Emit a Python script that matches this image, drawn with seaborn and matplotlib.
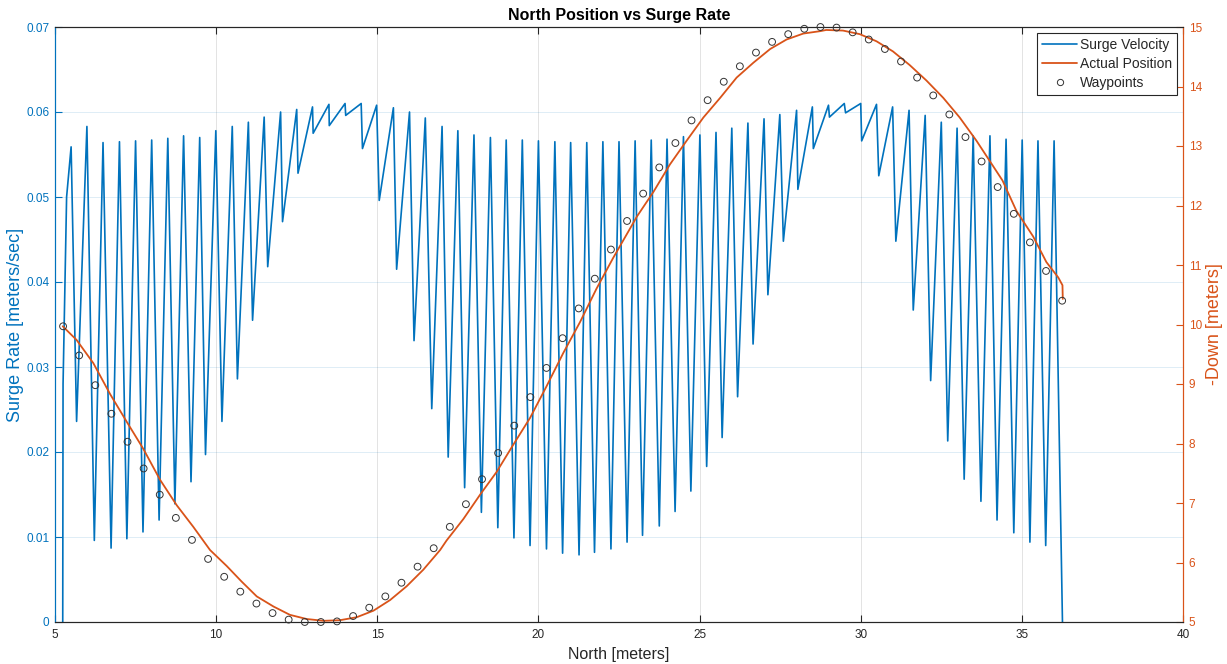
import numpy as np
import pandas as pd
import seaborn as sns
import matplotlib.pyplot as plt
from matplotlib.lines import Line2D

# surge velocity: start ramp, then peak / trough pairs
start_x = [5.24, 5.25, 5.36]
start_v = [0.0, 0.028, 0.050]

peak_x = [5.50, 5.99, 6.49, 7.00, 7.50, 8.00, 8.50, 8.99, 9.49, 9.99,
          10.50, 11.00, 11.49, 12.00, 12.50, 12.99, 13.50, 14.00, 14.50, 14.98,
          15.50, 16.00, 16.49, 17.01, 17.50, 18.00, 18.51, 19.00, 19.50, 20.00,
          20.51, 21.00, 21.50, 22.00, 22.50, 23.00, 23.50, 23.99, 24.50, 25.01,
          25.51, 26.00, 26.50, 27.00, 27.49, 28.01, 28.50, 29.00, 29.49, 30.00,
          30.49, 30.99, 31.50, 32.00, 32.50, 32.99, 33.49, 34.01, 34.51, 35.01,
          35.50, 36.00]
peak_v = [0.0559, 0.0583, 0.0564, 0.0565, 0.0566, 0.0567, 0.0569, 0.0572, 0.0570, 0.0578,
          0.0583, 0.0588, 0.0594, 0.0600, 0.0603, 0.0606, 0.0609, 0.0610, 0.0610, 0.0608,
          0.0605, 0.0600, 0.0593, 0.0583, 0.0578, 0.0573, 0.0570, 0.0567, 0.0567, 0.0566,
          0.0565, 0.0564, 0.0564, 0.0565, 0.0565, 0.0566, 0.0567, 0.0568, 0.0571, 0.0573,
          0.0576, 0.0581, 0.0587, 0.0592, 0.0597, 0.0602, 0.0606, 0.0608, 0.0610, 0.0610,
          0.0609, 0.0606, 0.0602, 0.0596, 0.0588, 0.0581, 0.0572, 0.0572, 0.0568, 0.0567,
          0.0566, 0.0566]

trough_x = [5.67, 6.22, 6.74, 7.23, 7.73, 8.23, 8.72, 9.22, 9.67, 10.18,
            10.66, 11.13, 11.60, 12.06, 12.54, 13.01, 13.51, 14.02, 14.54, 15.06,
            15.60, 16.14, 16.69, 17.20, 17.71, 18.23, 18.74, 19.24, 19.74, 20.25,
            20.75, 21.26, 21.74, 22.25, 22.75, 23.23, 23.75, 24.24, 24.73, 25.22,
            25.70, 26.18, 26.66, 27.12, 27.60, 28.05, 28.53, 29.03, 29.53, 30.03,
            30.56, 31.09, 31.63, 32.17, 32.70, 33.21, 33.73, 34.23, 34.75, 35.25,
            35.74, 36.26]
trough_v = [0.0236, 0.0096, 0.0087, 0.0098, 0.0106, 0.0120, 0.0139, 0.0165, 0.0197, 0.0236,
            0.0286, 0.0355, 0.0418, 0.0471, 0.0528, 0.0575, 0.0584, 0.0596, 0.0557, 0.0496,
            0.0415, 0.0331, 0.0251, 0.0194, 0.0158, 0.0129, 0.0111, 0.0099, 0.0090, 0.0086,
            0.0081, 0.0079, 0.0082, 0.0086, 0.0094, 0.0102, 0.0113, 0.0130, 0.0154, 0.0183,
            0.0217, 0.0265, 0.0327, 0.0385, 0.0448, 0.0509, 0.0557, 0.0594, 0.0599, 0.0566,
            0.0525, 0.0448, 0.0367, 0.0284, 0.0213, 0.0168, 0.0142, 0.0120, 0.0105, 0.0094,
            0.0090, 0.0]

# actual position (-Down)
pos_x = [5.24, 5.67, 6.19, 6.71, 7.22, 7.74, 8.26, 8.78, 9.29, 9.81,
         10.33, 10.79, 11.26, 11.78, 12.29, 12.81, 13.33, 13.84, 14.36, 14.88,
         15.40, 15.91, 16.43, 16.95, 17.15, 17.67, 18.19, 18.70, 19.22, 19.74,
         20.25, 20.77, 21.29, 21.80, 22.32, 22.84, 23.05, 23.57, 24.08, 24.60,
         25.12, 25.64, 26.15, 26.67, 27.19, 27.70, 28.22, 28.74, 28.93, 29.45,
         29.97, 30.49, 31.00, 31.52, 32.04, 32.56, 33.07, 33.59, 34.11, 34.40,
         34.83, 35.35, 35.76, 36.13, 36.26, 36.27]
pos_d = [9.97, 9.74, 9.35, 8.83, 8.37, 7.91, 7.39, 6.96, 6.60, 6.21,
         5.94, 5.68, 5.43, 5.26, 5.12, 5.05, 5.02, 5.03, 5.08, 5.19,
         5.37, 5.60, 5.88, 6.21, 6.37, 6.73, 7.14, 7.52, 7.98, 8.43,
         8.96, 9.52, 10.04, 10.60, 11.12, 11.61, 11.81, 12.23, 12.69, 13.09,
         13.48, 13.81, 14.15, 14.40, 14.63, 14.79, 14.89, 14.93, 14.95, 14.94,
         14.88, 14.76, 14.59, 14.36, 14.10, 13.81, 13.48, 13.09, 12.66, 12.42,
         11.91, 11.48, 11.05, 10.79, 10.66, 10.43]

# waypoints
wp_x = [5.25, 5.75, 6.25, 6.75, 7.25, 7.75, 8.25, 8.75, 9.25, 9.75,
        10.25, 10.75, 11.25, 11.75, 12.25, 12.75, 13.25, 13.75, 14.25, 14.75,
        15.25, 15.75, 16.25, 16.75, 17.25, 17.75, 18.25, 18.75, 19.25, 19.75,
        20.25, 20.75, 21.25, 21.75, 22.25, 22.75, 23.25, 23.75, 24.25, 24.75,
        25.25, 25.75, 26.25, 26.75, 27.25, 27.75, 28.25, 28.75, 29.25, 29.75,
        30.25, 30.75, 31.25, 31.75, 32.25, 32.75, 33.25, 33.75, 34.25, 34.75,
        35.25, 35.75, 36.25]
wp_d = [9.97, 9.48, 8.98, 8.50, 8.03, 7.58, 7.14, 6.75, 6.38, 6.06,
        5.76, 5.51, 5.31, 5.15, 5.04, 5.00, 5.00, 5.01, 5.10, 5.24,
        5.43, 5.66, 5.93, 6.24, 6.60, 6.98, 7.40, 7.84, 8.30, 8.78,
        9.27, 9.77, 10.27, 10.77, 11.26, 11.74, 12.20, 12.64, 13.05, 13.43,
        13.77, 14.08, 14.34, 14.57, 14.75, 14.88, 14.97, 15.00, 14.99, 14.91,
        14.79, 14.63, 14.42, 14.15, 13.85, 13.53, 13.15, 12.74, 12.31, 11.86,
        11.38, 10.90, 10.40]

x_ticks = [5, 10, 15, 20, 25, 30, 35, 40]
left_ticks = [0, 0.01, 0.02, 0.03, 0.04, 0.05, 0.06, 0.07]
left_labels = ['0', '0.01', '0.02', '0.03', '0.04', '0.05', '0.06', '0.07']
right_ticks = [5, 6, 7, 8, 9, 10, 11, 12, 13, 14, 15]

BLUE = '#0072BD'
ORANGE = '#D95319'
DARK = '#262626'

# interleave peaks and troughs into one trace
sx = list(start_x)
sv = list(start_v)
for px, pv, tx, tv in zip(peak_x, peak_v, trough_x, trough_v):
    sx += [px, tx]
    sv += [pv, tv]
surge = pd.DataFrame({'north': sx, 'surge': sv})
pos = pd.DataFrame({'north': pos_x, 'down': pos_d})
wps = pd.DataFrame({'north': wp_x, 'down': wp_d})

sns.set_style('white')
plt.rcParams['font.family'] = ['Liberation Sans', 'DejaVu Sans']

fig = plt.figure(figsize=(12.27, 6.64), dpi=100)
ax = fig.add_axes([55 / 1227, 42 / 664, 1128 / 1227, 595 / 664])
ax2 = ax.twinx()

sns.lineplot(data=surge, x='north', y='surge', ax=ax, sort=False, estimator=None,
             color=BLUE, linewidth=1.2)
sns.lineplot(data=pos, x='north', y='down', ax=ax2, sort=False, estimator=None,
             color=ORANGE, linewidth=1.3)
sns.scatterplot(data=wps, x='north', y='down', ax=ax2, marker='o', s=24,
                color='none', edgecolor='#333333', linewidth=0.7, clip_on=False, zorder=5)
ax2.collections[-1].set_facecolor('none')

ax.set_xlim(5, 40)
ax.set_ylim(0, 0.07)
ax2.set_ylim(5, 15)
ax.set_xticks(x_ticks)
ax.set_xticklabels([str(t) for t in x_ticks])
ax.set_yticks(left_ticks)
ax.set_yticklabels(left_labels)
ax2.set_yticks(right_ticks)
ax2.set_yticklabels([str(t) for t in right_ticks])

ax.grid(axis='x', color=DARK, alpha=0.15, linewidth=0.6)
ax.grid(axis='y', color=BLUE, alpha=0.15, linewidth=0.6)
ax2.grid(False)

ax.tick_params(axis='x', direction='in', top=True, bottom=True, length=5, width=0.8,
               colors=DARK, labelsize=8.5, pad=5)
ax.tick_params(axis='y', direction='in', length=5, width=0.8, colors=BLUE, labelsize=8.5, pad=4)
ax2.tick_params(axis='y', direction='in', length=5, width=0.8, colors=ORANGE, labelsize=8.5, pad=4)

for a in (ax, ax2):
    for s in a.spines.values():
        s.set_linewidth(0.8)
        s.set_color(DARK)
ax.spines['left'].set_color(BLUE)
ax2.spines['left'].set_color(BLUE)
ax.spines['right'].set_color(ORANGE)
ax2.spines['right'].set_color(ORANGE)

ax.set_xlabel('North [meters]', fontsize=11.5, color=DARK, labelpad=4)
ax.set_ylabel('Surge Rate [meters/sec]', fontsize=13, color=BLUE, labelpad=2)
ax2.set_ylabel('-Down [meters]', fontsize=13, color=ORANGE, labelpad=3)
ax.set_title('North Position vs Surge Rate', fontsize=11.5, fontweight='bold', color='black', pad=5)

handles = [Line2D([], [], color=BLUE, linewidth=1.2),
           Line2D([], [], color=ORANGE, linewidth=1.3),
           Line2D([], [], linestyle='none', marker='o', markerfacecolor='none',
                  markeredgecolor='#333333', markersize=4.5, markeredgewidth=0.7)]
leg = ax2.legend(handles, ['Surge Velocity', 'Actual Position', 'Waypoints'],
                 loc='upper right', fontsize=10, frameon=True, fancybox=False,
                 edgecolor=DARK, framealpha=1, borderaxespad=0.45, handlelength=2.5,
                 handletextpad=0.2, labelspacing=0.35, borderpad=0.35)
leg.get_frame().set_linewidth(0.8)

fig.savefig('out.png', dpi=100)
